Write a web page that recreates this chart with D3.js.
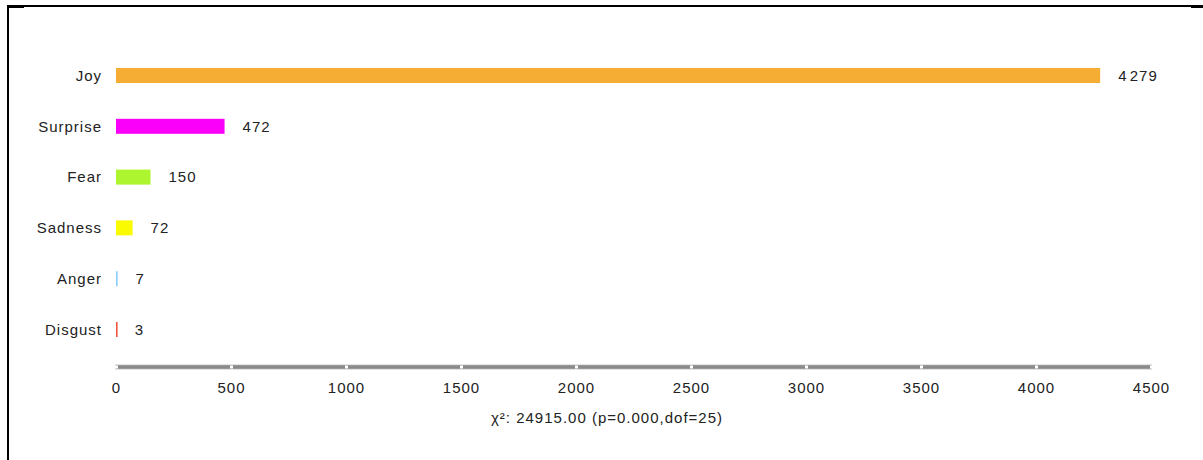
<!DOCTYPE html>
<html>
<head>
<meta charset="utf-8">
<script src="https://cdn.jsdelivr.net/npm/d3@7"></script>
<style>
  html, body { margin: 0; padding: 0; background: #fff; }
  svg { display: block; }
  text { font-family: "Liberation Sans", Arial, sans-serif; fill: #222; }
</style>
</head>
<body>
<svg id="chart" width="1203" height="460"></svg>
<script>
const categories = ["Joy", "Surprise", "Fear", "Sadness", "Anger", "Disgust"];
const counts = [4279, 472, 150, 72, 7, 3];
const colors = ["#F5AE33", "#FA00FA", "#ADF52F", "#FAFA00", "#87CEFA", "#F0553F"];
const tickValues = [0, 500, 1000, 1500, 2000, 2500, 3000, 3500, 4000, 4500];
const statLabel = "χ²: 24915.00 (p=0.000,dof=25)";

const FS = 15, LS = 1.0;
const svg = d3.select("#chart");

// frame (figure border)
svg.append("line").attr("x1", 8).attr("x2", 1203).attr("y1", 6).attr("y2", 6)
  .attr("stroke", "#000").attr("stroke-width", 2);
svg.append("line").attr("x1", 8).attr("x2", 8).attr("y1", 5).attr("y2", 460)
  .attr("stroke", "#000").attr("stroke-width", 2);
svg.append("rect").attr("x", 7).attr("y", 5).attr("width", 17).attr("height", 3).attr("fill", "#000");
svg.append("rect").attr("x", 1191).attr("y", 5).attr("width", 12).attr("height", 3).attr("fill", "#000");

const x = d3.scaleLinear().domain([0, 4500]).range([116, 1151]);
const y = d3.scalePoint().domain(categories).range([75.5, 329.5]);
const barH = 15;

const data = categories.map((c, i) => ({ cat: c, v: counts[i], col: colors[i] }));

// bars
svg.append("g").selectAll("rect").data(data).join("rect")
  .attr("x", x(0))
  .attr("y", d => y(d.cat) - barH / 2)
  .attr("width", d => Math.max(x(d.v) - x(0), 1.6))
  .attr("height", barH)
  .attr("fill", d => d.col);

// category labels
svg.append("g").selectAll("text").data(data).join("text")
  .attr("x", 102)
  .attr("y", d => y(d.cat))
  .attr("dy", "0.35em")
  .attr("text-anchor", "end")
  .attr("font-size", FS)
  .attr("letter-spacing", LS)
  .text(d => d.cat);

// value labels
svg.append("g").selectAll("text").data(data).join("text")
  .attr("x", d => x(d.v) + 18)
  .attr("y", d => y(d.cat))
  .attr("dy", "0.35em")
  .attr("font-size", FS)
  .attr("letter-spacing", LS)
  .text(d => d.v >= 1000 ? String(d.v).replace(/^(\d)(\d{3})$/, "$1\u200A$2") : d.v);

// axis
const axisY = 367;
const axis = d3.axisBottom(x).tickValues(tickValues).tickSize(0).tickPadding(14).tickFormat(d3.format("d"));
const gAxis = svg.append("g").attr("transform", `translate(0,${axisY})`).call(axis);
gAxis.select(".domain").remove();
gAxis.insert("line", ":first-child")
  .attr("x1", x(0) - 1).attr("x2", x(4500) + 1).attr("y1", 0).attr("y2", 0)
  .attr("stroke", "#c8c8c8").attr("stroke-width", 5);
gAxis.insert("line", ".tick")
  .attr("x1", x(0)).attr("x2", x(4500)).attr("y1", 0).attr("y2", 0)
  .attr("stroke", "#8a8a8a").attr("stroke-width", 3.5);
gAxis.selectAll(".tick").append("rect")
  .attr("x", -1.5).attr("y", -1.5).attr("width", 3).attr("height", 3)
  .attr("fill", "#fff");
gAxis.selectAll(".tick text")
  .attr("font-family", "Liberation Sans, Arial, sans-serif")
  .attr("font-size", FS)
  .attr("letter-spacing", LS)
  .attr("fill", "#222")
  .attr("dy", "0.35em")
  .attr("y", 21);

// stat label
svg.append("text")
  .attr("x", 607).attr("y", 418).attr("dy", "0.35em")
  .attr("text-anchor", "middle")
  .attr("font-size", FS)
  .attr("letter-spacing", LS)
  .text(statLabel);
</script>
</body>
</html>
